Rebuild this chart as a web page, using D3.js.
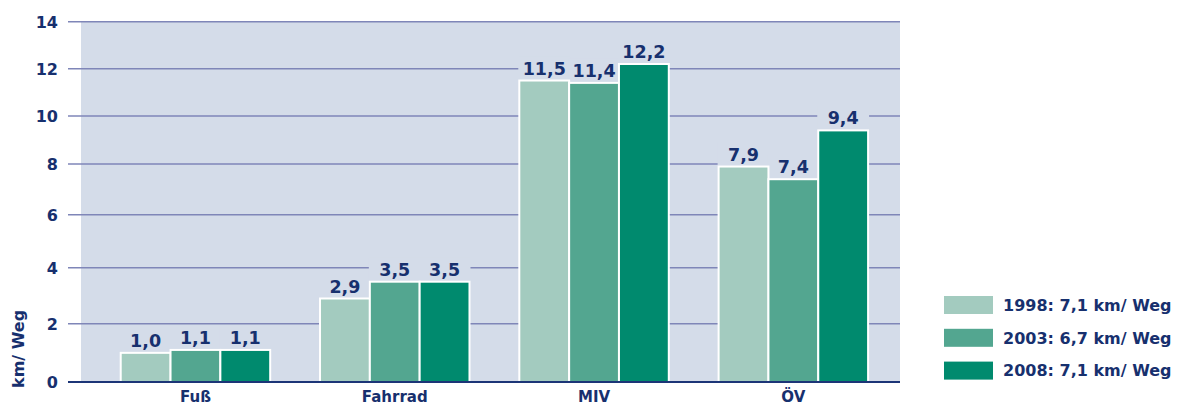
<!DOCTYPE html>
<html>
<head>
<meta charset="utf-8">
<script src="https://cdn.jsdelivr.net/npm/d3@7"></script>
<style>
  html, body { margin: 0; padding: 0; background: #fff; }
  svg { display: block; font-family: "DejaVu Sans", sans-serif; font-weight: bold; }
</style>
</head>
<body>
<svg id="chart" width="1180" height="405"></svg>
<script>
"use strict";

// data
var categories = ["Fuß", "Fahrrad", "MIV", "ÖV"];
var years = ["1998", "2003", "2008"];
var legendLabels = ["1998: 7,1 km/ Weg", "2003: 6,7 km/ Weg", "2008: 7,1 km/ Weg"];
var values1998 = [1.0, 2.9, 11.5, 7.9];
var values2003 = [1.1, 3.5, 11.4, 7.4];
var values2008 = [1.1, 3.5, 12.2, 9.4];
var yTicks = [0, 2, 4, 6, 8, 10, 12, 14];

var colors = ["#a3cbbf", "#53a690", "#008a6e"];
var ink = "#17306e";
var plotBg = "#d4dce9";

var series = [values1998, values2003, values2008];

var svg = d3.select('#chart');

// the axis of the original is not evenly spaced, so the scale follows the drawn ticks
var y = d3.scaleLinear()
    .domain(yTicks)
    .range([382, 323.7, 267.7, 214.7, 164, 116, 68.7, 21.7]);

var x = d3.scaleBand()
    .domain(categories)
    .range([95.8, 893])
    .paddingInner(0.25)
    .paddingOuter(0.125);

var xi = d3.scaleBand()
    .domain(years)
    .range([0, x.bandwidth()]);

// plot background
svg.append('rect')
    .attr('x', 81).attr('y', y(14))
    .attr('width', 900 - 81).attr('height', y(0) - y(14))
    .attr('fill', plotBg);

// gridlines
svg.append('g')
    .selectAll('line')
    .data(yTicks.filter(function (t) { return t > 0; }))
    .enter()
    .append('line')
    .attr('x1', 68).attr('x2', 900)
    .attr('y1', function (t) { return y(t); })
    .attr('y2', function (t) { return y(t); })
    .attr('stroke', '#7f86b8')
    .attr('stroke-width', 1.6);

// tick labels
svg.append('g')
    .selectAll('text')
    .data(yTicks)
    .enter()
    .append('text')
    .attr('x', 58)
    .attr('y', function (t) { return y(t); })
    .attr('dy', '0.37em')
    .attr('text-anchor', 'end')
    .attr('font-size', 16)
    .attr('fill', ink)
    .text(function (t) { return t; });

// axis title
svg.append('text')
    .attr('transform', 'translate(24,388) rotate(-90)')
    .attr('font-size', 16)
    .attr('fill', ink)
    .text('km/ Weg');

var cells = [];
categories.forEach(function (c, ci) {
    years.forEach(function (yr, si) {
        cells.push({ cat: c, year: yr, idx: si, value: series[si][ci] });
    });
});

function fmt(v) { return d3.format('.1f')(v).replace('.', ','); }

// label background boxes cut the gridlines
svg.append('g')
    .selectAll('rect')
    .data(cells)
    .enter()
    .append('rect')
    .attr('x', function (d) { return x(d.cat) + xi(d.year) - 1; })
    .attr('width', xi.bandwidth() + 2)
    .attr('y', function (d) { return y(d.value) - 24; })
    .attr('height', 24)
    .attr('fill', plotBg);

// bars
svg.append('g')
    .selectAll('rect')
    .data(cells)
    .enter()
    .append('rect')
    .attr('x', function (d) { return x(d.cat) + xi(d.year); })
    .attr('y', function (d) { return y(d.value); })
    .attr('width', xi.bandwidth())
    .attr('height', function (d) { return y(0) - y(d.value); })
    .attr('fill', function (d) { return colors[d.idx]; })
    .attr('stroke', '#fff')
    .attr('stroke-width', 2);

// value labels
svg.append('g')
    .selectAll('text')
    .data(cells)
    .enter()
    .append('text')
    .attr('x', function (d) { return x(d.cat) + xi(d.year) + xi.bandwidth() / 2; })
    .attr('y', function (d) { return y(d.value) - 6; })
    .attr('text-anchor', 'middle')
    .attr('font-size', 17.5)
    .attr('fill', ink)
    .text(function (d) { return fmt(d.value); });

// zero line
svg.append('line')
    .attr('x1', 68).attr('x2', 900)
    .attr('y1', y(0)).attr('y2', y(0))
    .attr('stroke', '#1c3577')
    .attr('stroke-width', 2);

// category labels
svg.append('g')
    .selectAll('text')
    .data(categories)
    .enter()
    .append('text')
    .attr('x', function (c) { return x(c) + x.bandwidth() / 2; })
    .attr('y', 402)
    .attr('text-anchor', 'middle')
    .attr('font-size', 15)
    .attr('fill', ink)
    .text(function (c) { return c; });

// legend
var legend = svg.append('g')
    .selectAll('g')
    .data(legendLabels)
    .enter()
    .append('g')
    .attr('transform', function (d, i) { return 'translate(944,' + (296 + i * 32.8) + ')'; });

legend.append('rect')
    .attr('width', 49).attr('height', 18)
    .attr('fill', function (d, i) { return colors[i]; });

legend.append('text')
    .attr('x', 59).attr('y', 9)
    .attr('dy', '0.36em')
    .attr('font-size', 16)
    .attr('fill', ink)
    .text(function (d) { return d; });
</script>
</body>
</html>
